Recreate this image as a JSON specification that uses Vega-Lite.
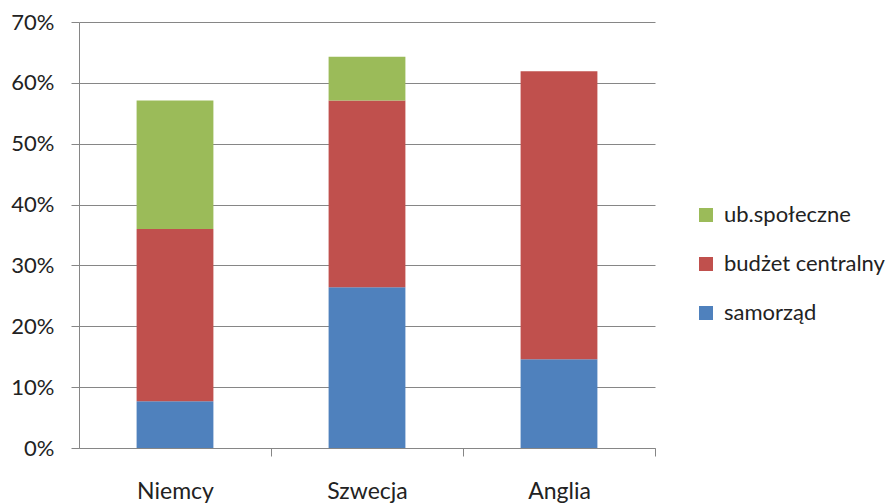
{
  "$schema": "https://vega.github.io/schema/vega-lite/v6.json",
  "width": 576,
  "height": 426,
  "autosize": {"type": "none"},
  "padding": {"left": 79, "top": 22, "right": 239, "bottom": 55},
  "background": "white",
  "config": {
    "font": "Lato",
    "view": {"stroke": null}
  },
  "data": {
    "values": [
      {"kraj": "Niemcy", "zrodlo": "samorząd", "rank": 1, "udzial": 0.077},
      {"kraj": "Niemcy", "zrodlo": "budżet centralny", "rank": 2, "udzial": 0.283},
      {"kraj": "Niemcy", "zrodlo": "ub.społeczne", "rank": 3, "udzial": 0.211},
      {"kraj": "Szwecja", "zrodlo": "samorząd", "rank": 1, "udzial": 0.264},
      {"kraj": "Szwecja", "zrodlo": "budżet centralny", "rank": 2, "udzial": 0.307},
      {"kraj": "Szwecja", "zrodlo": "ub.społeczne", "rank": 3, "udzial": 0.072},
      {"kraj": "Anglia", "zrodlo": "samorząd", "rank": 1, "udzial": 0.146},
      {"kraj": "Anglia", "zrodlo": "budżet centralny", "rank": 2, "udzial": 0.473},
      {"kraj": "Anglia", "zrodlo": "ub.społeczne", "rank": 3, "udzial": 0.0}
    ]
  },
  "mark": {"type": "bar"},
  "encoding": {
    "x": {
      "field": "kraj",
      "type": "nominal",
      "sort": ["Niemcy", "Szwecja", "Anglia"],
      "scale": {"paddingInner": 0.6, "paddingOuter": 0.3},
      "axis": {
        "title": null,
        "labelAngle": 0,
        "labelFontSize": 23,
        "labelColor": "#222",
        "labelPadding": 24,
        "domainColor": "#868686",
        "tickColor": "#868686",
        "tickSize": 8,
        "tickOffset": 96,
        "labelOffset": -96,
        "grid": false
      }
    },
    "y": {
      "field": "udzial",
      "type": "quantitative",
      "stack": "zero",
      "scale": {"domain": [0, 0.7], "nice": false},
      "axis": {
        "title": null,
        "format": ".0%",
        "values": [0, 0.1, 0.2, 0.3, 0.4, 0.5, 0.6, 0.7],
        "labelFontSize": 22,
        "labelColor": "#222",
        "labelPadding": 17,
        "tickSize": 8,
        "tickColor": "#868686",
        "domainColor": "#868686",
        "gridColor": "#868686",
        "grid": true
      }
    },
    "color": {
      "field": "zrodlo",
      "type": "nominal",
      "scale": {
        "domain": ["ub.społeczne", "budżet centralny", "samorząd"],
        "range": ["#9BBB59", "#C0504D", "#4F81BD"]
      },
      "legend": {
        "title": null,
        "orient": "none",
        "legendX": 616,
        "legendY": 182,
        "padding": 0,
        "symbolType": "square",
        "symbolSize": 196,
        "symbolStrokeWidth": 0,
        "labelFontSize": 22,
        "labelColor": "#222",
        "labelOffset": 7,
        "labelLimit": 300,
        "rowPadding": 27
      }
    },
    "order": {"field": "rank", "type": "quantitative"}
  }
}
